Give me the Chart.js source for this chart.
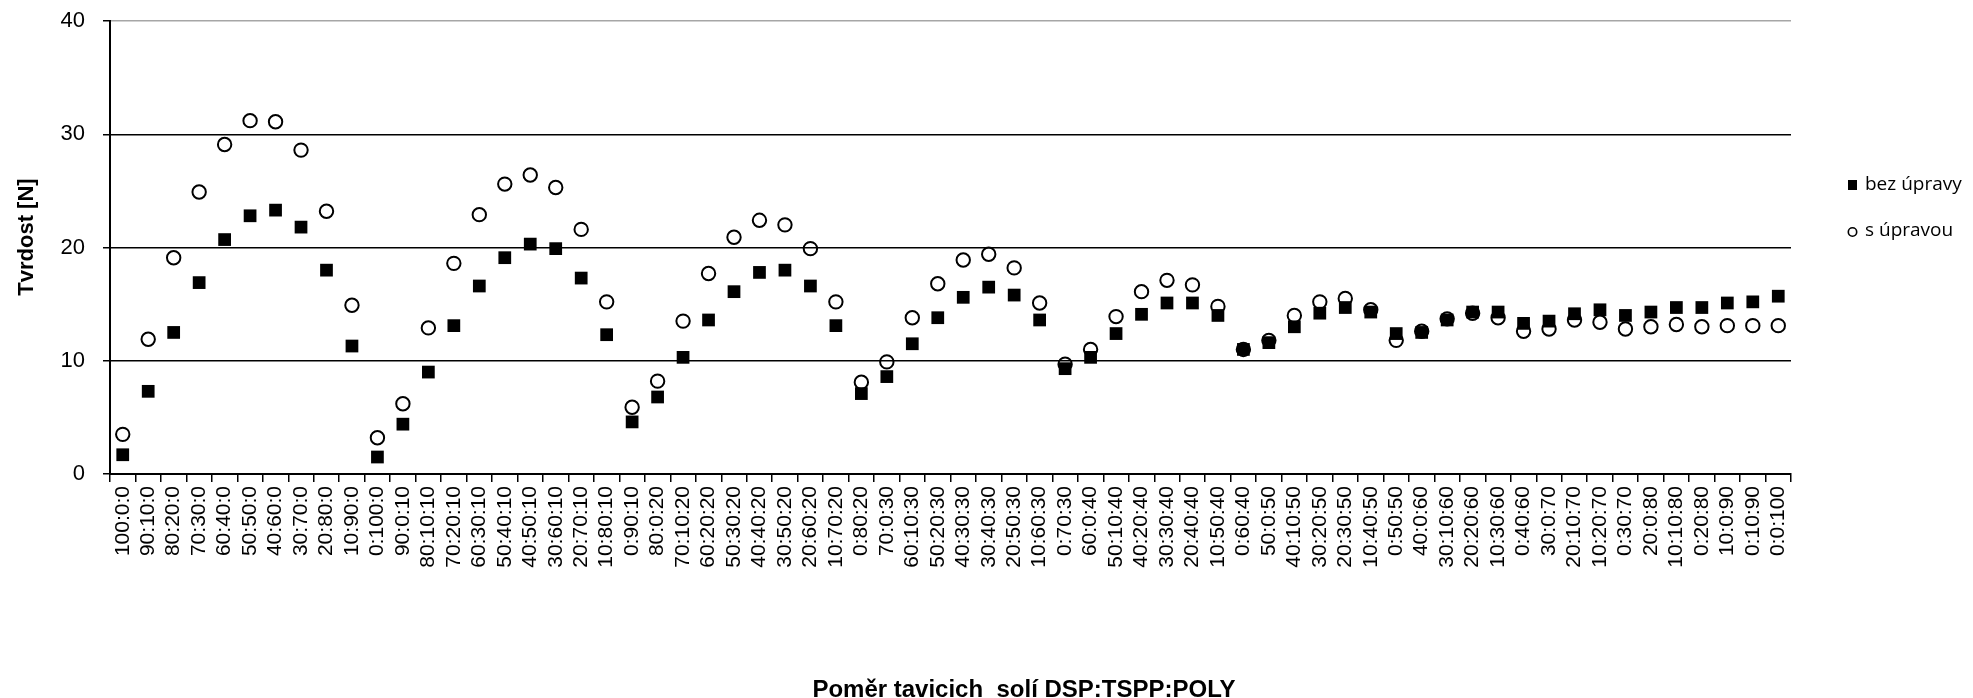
<!DOCTYPE html>
<html>
<head>
<meta charset="utf-8">
<script src="https://cdn.jsdelivr.net/npm/chart.js@4.4.1/dist/chart.umd.min.js"></script>
<style>
  html, body { margin: 0; padding: 0; background: #ffffff; }
  #wrap { width: 1973px; height: 698px; position: relative; }
</style>
</head>
<body>
<div id="wrap"><canvas id="chart" width="1973" height="698"></canvas></div>
<script>
// Ratio of melting salts DSP:TSPP:POLY
const categories = [
  '100:0:0','90:10:0','80:20:0','70:30:0','60:40:0','50:50:0','40:60:0','30:70:0','20:80:0','10:90:0','0:100:0',
  '90:0:10','80:10:10','70:20:10','60:30:10','50:40:10','40:50:10','30:60:10','20:70:10','10:80:10','0:90:10',
  '80:0:20','70:10:20','60:20:20','50:30:20','40:40:20','30:50:20','20:60:20','10:70:20','0:80:20',
  '70:0:30','60:10:30','50:20:30','40:30:30','30:40:30','20:50:30','10:60:30','0:70:30',
  '60:0:40','50:10:40','40:20:40','30:30:40','20:40:40','10:50:40','0:60:40',
  '50:0:50','40:10:50','30:20:50','20:30:50','10:40:50','0:50:50',
  '40:0:60','30:10:60','20:20:60','10:30:60','0:40:60',
  '30:0:70','20:10:70','10:20:70','0:30:70',
  '20:0:80','10:10:80','0:20:80',
  '10:0:90','0:10:90',
  '0:0:100'
];

// Hardness [N] without treatment
const bezUpravy = [
  1.7, 7.3, 12.5, 16.9, 20.7, 22.8, 23.3, 21.8, 18.0, 11.3, 1.5,
  4.4, 9.0, 13.1, 16.6, 19.1, 20.3, 19.9, 17.3, 12.3, 4.6,
  6.8, 10.3, 13.6, 16.1, 17.8, 18.0, 16.6, 13.1, 7.1,
  8.6, 11.5, 13.8, 15.6, 16.5, 15.8, 13.6, 9.3,
  10.3, 12.4, 14.1, 15.1, 15.1, 14.0, 11.0,
  11.6, 13.0, 14.2, 14.7, 14.3, 12.4,
  12.5, 13.6, 14.3, 14.3, 13.3,
  13.5, 14.15, 14.5, 14.0,
  14.3, 14.7, 14.7,
  15.1, 15.2,
  15.7
];

// Hardness [N] with treatment
const sUpravou = [
  3.5, 11.9, 19.1, 24.9, 29.1, 31.2, 31.1, 28.6, 23.2, 14.9, 3.2,
  6.2, 12.9, 18.6, 22.9, 25.6, 26.4, 25.3, 21.6, 15.2, 5.9,
  8.2, 13.5, 17.7, 20.9, 22.4, 22.0, 19.9, 15.2, 8.1,
  9.9, 13.8, 16.8, 18.9, 19.4, 18.2, 15.1, 9.7,
  11.0, 13.9, 16.1, 17.1, 16.7, 14.8, 11.0,
  11.8, 14.0, 15.2, 15.5, 14.5, 11.8,
  12.6, 13.7, 14.2, 13.8, 12.6,
  12.8, 13.6, 13.4, 12.8,
  13.0, 13.2, 13.0,
  13.1, 13.1,
  13.1
];

const yTicks = [0, 10, 20, 30, 40];

const seriesNames = ['bez úpravy', 's úpravou'];
const yTitle = 'Tvrdost [N]';
const xTitle = 'Poměr tavicich  solí DSP:TSPP:POLY';

const FONT = '"Liberation Sans", Arial, sans-serif';

// Axis titles placed freely around the plot
const axisTitles = {
  id: 'axisTitles',
  afterDraw(chart) {
    const ctx = chart.ctx;
    ctx.save();
    ctx.fillStyle = '#000';
    ctx.textAlign = 'center';
    ctx.textBaseline = 'middle';
    ctx.font = 'bold 22px ' + FONT;
    ctx.translate(27, 237);
    ctx.rotate(-Math.PI / 2);
    ctx.fillText(yTitle, 0, 0);
    ctx.restore();

    ctx.save();
    ctx.fillStyle = '#000';
    ctx.textAlign = 'center';
    ctx.textBaseline = 'alphabetic';
    ctx.font = 'bold 24px ' + FONT;
    ctx.fillText(xTitle, 1024, 697);
    ctx.restore();
  }
};

// Series key to the right of the plot
const sideLegend = {
  id: 'sideLegend',
  afterDraw(chart) {
    const ctx = chart.ctx;
    const x0 = 1848;
    ctx.save();
    ctx.font = '19px "Open Sans", ' + FONT;
    ctx.textBaseline = 'middle';
    ctx.textAlign = 'left';
    chart.data.datasets.forEach((ds, i) => {
      const y = 185 + i * 46;
      if (ds.pointStyle === 'rect') {
        ctx.fillStyle = '#000';
        ctx.fillRect(x0, y - 5, 9, 10);
      } else {
        ctx.beginPath();
        ctx.arc(x0 + 4.5, y + 1, 4.2, 0, Math.PI * 2);
        ctx.lineWidth = 1.6;
        ctx.strokeStyle = '#000';
        ctx.stroke();
      }
      ctx.fillStyle = '#000';
      ctx.fillText(ds.label, x0 + 17, y);
    });
    ctx.restore();
  }
};

new Chart(document.getElementById('chart'), {
  type: 'line',
  data: {
    labels: categories,
    datasets: [
      {
        label: seriesNames[0],
        data: bezUpravy,
        showLine: false,
        pointStyle: 'rect',
        pointRadius: 9,
        pointHoverRadius: 9,
        pointBackgroundColor: '#000',
        pointBorderColor: '#000',
        pointBorderWidth: 0
      },
      {
        label: seriesNames[1],
        data: sUpravou,
        showLine: false,
        pointStyle: 'circle',
        pointRadius: 6.7,
        pointHoverRadius: 6.7,
        pointBackgroundColor: 'rgba(0,0,0,0)',
        pointBorderColor: '#000',
        pointBorderWidth: 2
      }
    ]
  },
  options: {
    responsive: false,
    animation: false,
    devicePixelRatio: 1,
    layout: { padding: { left: 0, top: 21, right: 182, bottom: 0 } },
    plugins: {
      legend: { display: false },
      tooltip: { enabled: false },
      title: { display: false }
    },
    scales: {
      x: {
        type: 'category',
        offset: true,
        afterFit(scale) { scale.height = 224; },
        border: { display: true, color: '#000', width: 2 },
        grid: {
          offset: true,
          drawOnChartArea: true,
          drawTicks: true,
          tickLength: 8,
          lineWidth: 1.5,
          color: (c) => c.index === categories.length ? '#a6a6a6' : 'rgba(0,0,0,0)',
          tickColor: '#000'
        },
        ticks: {
          autoSkip: false,
          maxRotation: 90,
          minRotation: 90,
          padding: 4,
          color: '#000',
          font: { family: FONT, size: 21 }
        }
      },
      y: {
        min: 0,
        max: 40,
        afterFit(scale) {
          scale.width = 110;
          scale.paddingTop = 0;
          scale.paddingBottom = 0;
        },
        afterBuildTicks(scale) { scale.ticks = yTicks.map(v => ({ value: v })); },
        border: { display: true, color: '#000', width: 2 },
        grid: {
          tickLength: 7,
          lineWidth: 1.5,
          color: (c) => (c.tick && c.tick.value === 40) ? '#a6a6a6' : '#000',
          tickColor: '#000'
        },
        ticks: {
          padding: 18,
          color: '#000',
          font: { family: FONT, size: 22 }
        }
      }
    }
  },
  plugins: [axisTitles, sideLegend]
});
</script>
</body>
</html>
